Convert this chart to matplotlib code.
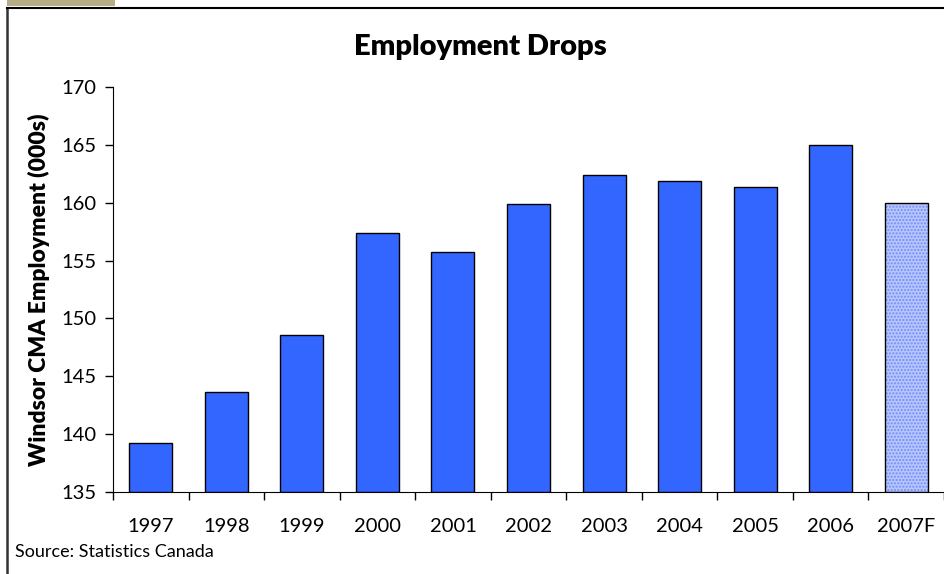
import matplotlib
matplotlib.use('Agg')
import matplotlib.pyplot as plt
from matplotlib.patches import Rectangle
from matplotlib.lines import Line2D

plt.rcParams['font.family'] = ['Lato', 'DejaVu Sans']

years = ['1997', '1998', '1999', '2000', '2001', '2002', '2003', '2004', '2005', '2006', '2007F']
employment = [139.2, 143.6, 148.6, 157.4, 155.7, 159.9, 162.4, 161.9, 161.4, 165.0, 160.0]
forecast = [False] * 10 + [True]

W, H = 945, 574
fig = plt.figure(figsize=(W / 100, H / 100), dpi=100)

# frame decoration
fig.patches.append(Rectangle((7 / W, 1 - 6 / H), 108 / W, 6 / H, transform=fig.transFigure,
                             facecolor='#b5ad85', edgecolor='none'))
fig.lines.append(Line2D([7.5 / W, 7.5 / W], [0, 1 - 7.5 / H], transform=fig.transFigure,
                        color='#333333', lw=1.8))
fig.lines.append(Line2D([7.5 / W, 1], [1 - 7.5 / H, 1 - 7.5 / H], transform=fig.transFigure,
                        color='black', lw=1.5))

ax = fig.add_axes([113 / W, 1 - 492 / H, 831 / W, 405 / H])
x = range(len(years))
for i, (v, f) in enumerate(zip(employment, forecast)):
    if f:
        ax.bar(i, v - 135, bottom=135, width=0.57, color='#b8c6fa', edgecolor='#6f8cff',
               linewidth=0, hatch='.....', zorder=2)
        ax.bar(i, v - 135, bottom=135, width=0.57, color='none', edgecolor='black',
               linewidth=1, zorder=3)
    else:
        ax.bar(i, v - 135, bottom=135, width=0.57, color='#3366ff', edgecolor='black',
               linewidth=1, zorder=2)

ax.set_xlim(-0.5, len(years) - 0.5)
ax.set_ylim(135, 170)
ax.set_yticks(range(135, 171, 5))
ax.set_xticks([i + 0.5 for i in range(-1, len(years))], minor=False)
ax.set_xticklabels([])
ax.set_xticks(list(x), minor=True)
ax.set_xticklabels(years, minor=True)
ax.tick_params(axis='x', which='major', direction='out', length=6, width=1)
ax.tick_params(axis='x', which='minor', length=0, pad=19, labelsize=14.5)
ax.tick_params(axis='y', direction='out', length=6, width=1, labelsize=14.5, pad=6)
for s in ['top', 'right']:
    ax.spines[s].set_visible(False)

ax.set_ylabel('Windsor CMA Employment (000s)', fontsize=16.5, fontweight='heavy', labelpad=8)
fig.text(480 / W, 1 - 47 / H, 'Employment Drops', ha='center', va='center',
         fontsize=21, fontweight='heavy')
fig.text(15 / W, 1 - 552 / H, 'Source: Statistics Canada', ha='left', va='center', fontsize=13)

fig.savefig('out.png', dpi=100)
